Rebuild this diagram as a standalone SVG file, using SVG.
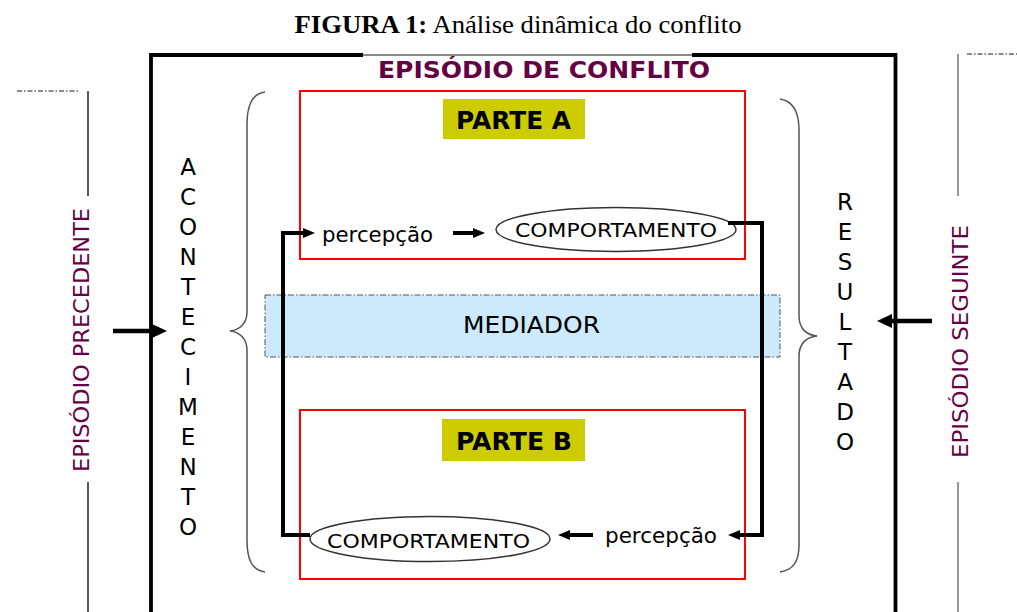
<svg xmlns="http://www.w3.org/2000/svg" width="1017" height="612" viewBox="0 0 1017 612">
<style>
.t{font-family:"DejaVu Sans","Liberation Sans",sans-serif;fill:#000}
.b{font-weight:bold}
.pur{fill:#660044}
.conn{fill:none;stroke:#000;stroke-width:4}
.big{fill:none;stroke:#000;stroke-width:4.5}
.red{fill:none;stroke:#FF0000;stroke-width:2}
.lab{fill:#CCCC00}
.ell{fill:#fff;stroke:#333;stroke-width:1.5}
.brace{fill:none;stroke:#555;stroke-width:1.5}
.dd{fill:none;stroke:#666;stroke-width:1.5;stroke-dasharray:5,2,1.5,2}
</style>
<defs>
<marker id="ah" viewBox="0 0 12 10" markerWidth="12" markerHeight="10" refX="4" refY="5" orient="auto" markerUnits="userSpaceOnUse"><path d="M0,0 L12,5 L0,10 Z" fill="#000"/></marker>
<marker id="ahL" viewBox="0 0 15 14" markerWidth="15" markerHeight="14" refX="7" refY="7" orient="auto" markerUnits="userSpaceOnUse"><path d="M0,0 L15,7 L0,14 Z" fill="#000"/></marker>
</defs>
<rect width="1017" height="612" fill="#fff"/>

<g id="title">
<text x="518" y="33" text-anchor="middle" font-family="'Liberation Serif',serif" font-size="26" fill="#000" textLength="447" lengthAdjust="spacingAndGlyphs"><tspan font-weight="bold">FIGURA 1:</tspan> Análise dinâmica do conflito</text>
</g>

<g id="episodio-precedente">
<path class="dd" d="M17,91 L80,91"/>
<path d="M88,91 L88,196 M88,482 L88,612" stroke="#222" stroke-width="1.5" fill="none"/>
<text class="t pur" transform="translate(89,340) rotate(-90)" text-anchor="middle" font-size="22" textLength="264" lengthAdjust="spacingAndGlyphs">EPISÓDIO PRECEDENTE</text>
</g>

<g id="episodio-seguinte">
<path class="dd" d="M967,54 L1017,54"/>
<path d="M958,54 L958,196 M958,482 L958,612" stroke="#777" stroke-width="1.5" fill="none"/>
<text class="t pur" transform="translate(968,341.5) rotate(-90)" text-anchor="middle" font-size="22" textLength="233" lengthAdjust="spacingAndGlyphs">EPISÓDIO SEGUINTE</text>
</g>

<g id="episodio-conflito">
<path d="M151,620 L151,55 L895.5,55 L895.5,620" fill="none" stroke="#000" stroke-width="3.8"/>
<path d="M363,55 L692,55" stroke="#fff" stroke-width="4.5"/>
<path d="M363,55 L692,55" stroke="#888" stroke-width="2.2"/>
<text class="t b pur" x="378" y="78" font-size="23" textLength="332" lengthAdjust="spacingAndGlyphs">EPISÓDIO DE CONFLITO</text>
</g>

<g id="acontecimento">
<path class="brace" d="M265,92 C252,94 247,105 247,125 L247,312 C247,323 240,330 230,331 C240,332 247,339 247,350 L247,540 C247,560 252,570 265,572"/>
<g class="t" font-size="23" text-anchor="middle">
<text x="188" y="175">A</text>
<text x="188" y="205">C</text>
<text x="188" y="235">O</text>
<text x="188" y="265">N</text>
<text x="188" y="295">T</text>
<text x="188" y="325">E</text>
<text x="188" y="355">C</text>
<text x="188" y="385">I</text>
<text x="188" y="415">M</text>
<text x="188" y="445">E</text>
<text x="188" y="475">N</text>
<text x="188" y="505">T</text>
<text x="188" y="535">O</text>
</g>
</g>

<g id="resultado">
<path class="brace" d="M780,99 C793,101 799,112 799,130 L799,316 C799,328 806,335 817,336 C806,337 799,344 799,356 L799,545 C799,562 793,570 780,572"/>
<g class="t" font-size="23" text-anchor="middle">
<text x="845" y="210">R</text>
<text x="845" y="240">E</text>
<text x="845" y="270">S</text>
<text x="845" y="300">U</text>
<text x="845" y="330">L</text>
<text x="845" y="360">T</text>
<text x="845" y="390">A</text>
<text x="845" y="420">D</text>
<text x="845" y="450">O</text>
</g>
</g>

<g id="mediador">
<rect x="265" y="295" width="515" height="62" fill="#CCEAFB" stroke="#555" stroke-width="1" stroke-dasharray="6,2,1.5,2"/>
<text class="t" x="463" y="333" font-size="23" textLength="137" lengthAdjust="spacingAndGlyphs">MEDIADOR</text>
</g>

<g id="parte-a">
<rect class="red" x="300" y="91" width="445" height="168"/>
<rect class="lab" x="443" y="99" width="142" height="40"/>
<text class="t b" x="456" y="129" font-size="24" textLength="115" lengthAdjust="spacingAndGlyphs">PARTE A</text>
<text class="t" x="322" y="242" font-size="21" textLength="111" lengthAdjust="spacingAndGlyphs">percepção</text>
<ellipse class="ell" cx="616" cy="229.5" rx="120" ry="22"/>
<text class="t" x="515" y="237" font-size="20" textLength="202" lengthAdjust="spacingAndGlyphs">COMPORTAMENTO</text>
</g>

<g id="parte-b">
<rect class="red" x="300" y="410" width="445" height="169"/>
<rect class="lab" x="442" y="419" width="143" height="42"/>
<text class="t b" x="456" y="450" font-size="24" textLength="116" lengthAdjust="spacingAndGlyphs">PARTE B</text>
<ellipse class="ell" cx="430" cy="539" rx="120" ry="22.5"/>
<text class="t" x="327" y="548" font-size="20" textLength="203" lengthAdjust="spacingAndGlyphs">COMPORTAMENTO</text>
<text class="t" x="605" y="543" font-size="21" textLength="112" lengthAdjust="spacingAndGlyphs">percepção</text>
</g>

<g id="connectors">
<path class="big" d="M113,331 L159,331" marker-end="url(#ahL)"/>
<path class="big" d="M932,321 L885,321" marker-end="url(#ahL)"/>
<path class="conn" d="M310,535 L283,535 L283,233 L307,233" marker-end="url(#ah)"/>
<path class="conn" d="M453,233 L477,233" marker-end="url(#ah)"/>
<path class="conn" d="M728,223 L762,223 L762,535 L736,535" marker-end="url(#ah)"/>
<path class="conn" d="M593,535 L566,535" marker-end="url(#ah)"/>
</g>
</svg>
